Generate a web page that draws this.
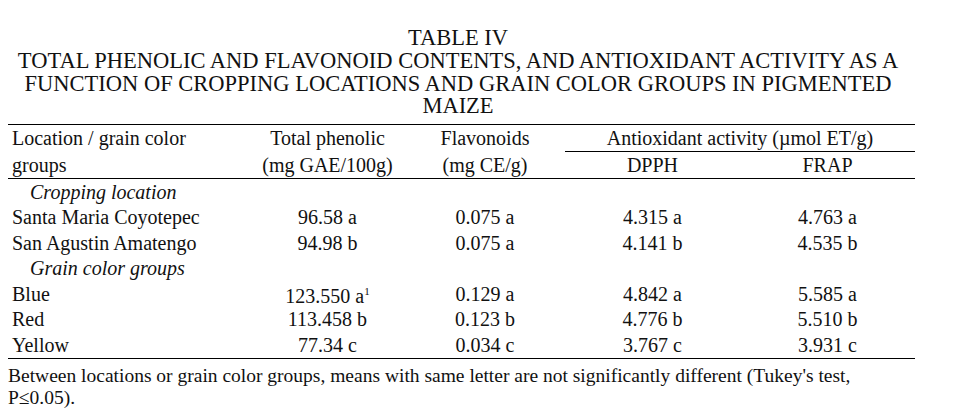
<!DOCTYPE html>
<html><head><meta charset="utf-8">
<script src="https://cdn.jsdelivr.net/npm/chart.js@4"></script>
<style>
body{margin:0;background:#fff;font-family:"Liberation Serif","Times New Roman",serif;color:#111;width:955px;height:419px;overflow:hidden}
#title{position:absolute;left:0;top:27px;width:916px;text-align:center;font-size:22.5px;line-height:22.8px}
table{position:absolute;left:8px;top:124px;width:907px;border-collapse:collapse;font-size:20px}
td{padding:0;height:25.5px;text-align:center;white-space:nowrap;line-height:20px}
tr.h td{height:26px}
td.l{text-align:left;padding-left:4px}
td.it{font-style:italic;padding-left:22px;text-align:left}
tr.top td{border-top:1.5px solid #000}
tr.bot td{border-bottom:1.5px solid #000}
td.ul{border-bottom:1px solid #000}
#foot{position:absolute;left:8px;top:365px;font-size:19.5px;line-height:22px;width:940px}
</style></head><body>
<div id="title">TABLE IV<br>TOTAL PHENOLIC AND FLAVONOID CONTENTS, AND ANTIOXIDANT ACTIVITY AS A<br>FUNCTION OF CROPPING LOCATIONS AND GRAIN COLOR GROUPS IN PIGMENTED<br>MAIZE</div>
<table id="t"></table>
<div id="foot">Between locations or grain color groups, means with same letter are not significantly different (Tukey's test,<br>P≤0.05).</div>
<script>
const locations = ['Santa Maria Coyotepec', 'San Agustin Amatengo'];
const colors = ['Blue', 'Red', 'Yellow'];
const phenolic = ['96.58 a', '94.98 b', '123.550 a<sup style="font-size:11px">1</sup>', '113.458 b', '77.34 c'];
const flavonoids = ['0.075 a', '0.075 a', '0.129 a', '0.123 b', '0.034 c'];
const dpph = ['4.315 a', '4.141 b', '4.842 a', '4.776 b', '3.767 c'];
const frap = ['4.763 a', '4.535 b', '5.585 a', '5.510 b', '3.931 c'];

const t = document.getElementById('t');
let h = '<colgroup><col style="width:242px"><col style="width:155px"><col style="width:160px"><col style="width:175px"><col style="width:175px"></colgroup>';
h += '<tr class="top h"><td class="l">Location / grain color</td><td>Total phenolic</td><td>Flavonoids</td><td colspan="2" class="ul">Antioxidant activity (µmol ET/g)</td></tr>';
h += '<tr class="bot h"><td class="l">groups</td><td>(mg GAE/100g)</td><td>(mg CE/g)</td><td>DPPH</td><td>FRAP</td></tr>';
const row = (name, i, cls) => `<tr class="${cls||''}"><td class="l">${name}</td><td>${phenolic[i]}</td><td>${flavonoids[i]}</td><td>${dpph[i]}</td><td>${frap[i]}</td></tr>`;
h += '<tr><td class="it" colspan="5">Cropping location</td></tr>';
locations.forEach((n, i) => h += row(n, i));
h += '<tr><td class="it" colspan="5">Grain color groups</td></tr>';
colors.forEach((n, i) => h += row(n, i + 2, i === 2 ? 'bot' : ''));
t.innerHTML = h;
</script>
</body></html>
